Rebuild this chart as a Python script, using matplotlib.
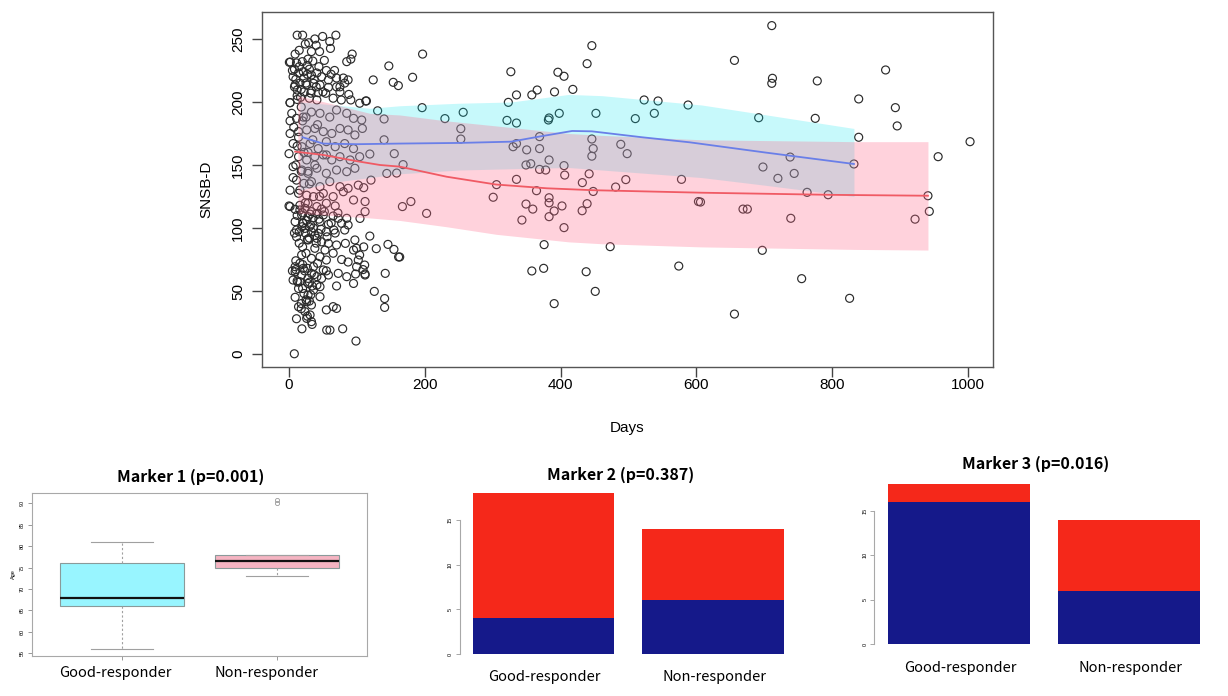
import matplotlib

matplotlib.use("Agg")
import matplotlib.pyplot as plt  # noqa: E402

W, H = 1228, 696

# ---- main scatter: SNSB-D vs days ----
days = [
    # dense early cluster
    12, 20, 69, 49.5, 38, 29, 40, 61, 15, 9, 93, 91, 85, 2, 11, 19.6, 28, 35, 55, 67,
    6, 14, 21, 27, 33, 41, 48, 58, 70, 80, 87, 82, 70, 58, 45.6, 36, 26, 16, 9, 12,
    22, 33, 43, 54, 75, 88, 91, 104, 114, 1.5, 12, 17, 30, 41, 65, 77,
    4, 11, 21, 33, 45.6, 60, 70, 85, 95, 107, 1.5, 14, 26, 38, 50.5, 63, 75, 87, 97, 108,
    6, 19, 31, 43, 55, 68, 82, 95, 14, 26, 38, 50.5, 63, 75, 90, 104, 119,
    6, 19, 28, 41, 55, 70, 85, 97, 11, 22, 33, 45.6, 60, 75, 87, 102,
    14, 26, 36, 50.5, 65, 80, 95, 1.5, 16, 28, 41, 55, 68,
    9, 16, 23.5, 33, 18.6, 28, 41, 50.5, 65, 72.5, 85, 9, 21, 32, 45.6, 58, 77.5, 87,
    11, 23.5, 33, 43, 55, 66, 82, 11, 28, 41, 48, 58, 70, 83, 97, 20, 38, 53, 65, 110, 99.5,
    18.6, 33, 45.6, 55, 77.5, 87, 104, 102, 95,
    9, 21, 36, 50.5, 9, 18.6, 33, 41, 58, 72.5, 85, 99.5, 109, 112, 98,
    6, 16, 28, 41, 45.6, 14, 36, 70, 95, 28, 45.6, 26, 33, 14, 23.5, 31, 26, 33, 55, 65, 70,
    5, 8, 12, 18, 25, 7, 14, 22, 10, 28, 6, 16, 24, 12, 20, 8, 30, 15, 25, 10, 20, 5, 28,
    13, 22, 9, 30, 18, 27, 11,
    8, 15, 22, 30, 37, 44, 18, 25, 32, 40, 10, 27, 50, 62, 75, 45, 52, 33, 24, 60,
    20, 35, 28, 42, 55, 12, 30, 45, 18, 38,
    20, 26, 31, 36, 44, 52, 24, 30, 38, 47, 56, 62, 19, 27, 35, 48, 68, 72, 15, 40,
    10, 16, 23, 30, 37, 12, 20, 27, 34, 42, 48, 55, 25, 32, 18,
    98.6, 79, 55.5, 60.3, 7.8, 19, 34, 0, 1.5, 0, 0.5, 1.5, 1.5,
    # 100-200 days
    147, 153.5, 161, 124, 113, 130.5, 140, 140, 155, 168, 158.5, 144, 120.7, 110, 112, 112,
    104.5, 167, 179.5, 119, 128.5, 145.7, 154.5, 161.4, 111.4, 112, 141.7, 125.6, 140.8,
    140.8, 196.7, 182, 196, 229.6, 256.5, 253, 253, 202.6, 163,
    # later visits
    326.7, 335, 323, 321, 335, 357.6, 365.5, 391, 396, 405, 418, 439, 446, 383, 382, 398,
    452, 510, 523, 543.5, 538, 587.7, 330, 335, 350, 369, 369, 349, 356, 369, 378, 383,
    405, 406, 446, 448, 446, 442, 432, 448, 488.6, 498, 496, 481, 578, 335, 305.6, 300.7,
    364.5, 349, 359, 383, 383, 390.5, 383, 402, 431.7, 439, 343, 405, 375.7, 473, 603,
    357.6, 375, 437.6, 451, 390.5, 574,
    711, 656, 712, 711, 778, 878.6, 839, 893, 895.7, 1003, 691.7, 775, 839, 956, 698, 738,
    720, 744, 832, 763, 794, 941, 943, 922, 606, 668.6, 675, 739, 697, 755, 825.6, 656,
]
snsb = [
    253, 253, 253, 252, 250, 247, 245, 242.5, 241, 238, 238, 234, 232, 231.7, 231, 232, 234, 232.5, 225, 225,
    220, 223, 224, 222, 221.4, 223, 220, 217.5, 219, 219, 217.5, 215, 212, 211.6, 213.5, 214.8, 213.5, 215, 213.5, 209.5,
    208, 209, 207.4, 206.9, 208, 206, 201.6, 199, 200.8, 199.5, 202, 203.7, 203, 201.6, 203, 201.6,
    191, 187, 188, 192, 191, 188, 193.6, 191, 187, 185.7, 175, 176.5, 177.8, 179, 176.5, 175, 179, 177.8, 173.8, 179,
    167, 164.5, 167, 163, 168.5, 164.5, 167, 163, 156.6, 154, 156.6, 158, 154, 156.6, 154, 156.6, 158.7,
    148.7, 146, 143.4, 147.4, 143.4, 146, 144.7, 147.4, 138, 135.4, 136.8, 132.8, 136.8, 132.8, 131.5, 134,
    127.5, 126, 124.9, 127.5, 124.9, 128.8, 122.2, 117, 118, 119.6, 117, 119.6, 117.5,
    114.8, 114.3, 115.6, 113, 110.3, 109, 111.6, 110.3, 109.5, 107.7, 107.7, 105, 103.7, 102.4, 105, 103, 103.7, 102.4,
    98.4, 99.7, 97, 95.8, 97, 98.4, 98.4, 93, 90.5, 91.8, 89, 87.8, 86.5, 87.8, 90.5, 85, 83.9, 82.5, 80, 85, 83.9,
    78.6, 75.9, 77.2, 74.6, 75, 73, 78.6, 74.6, 82.5,
    69.3, 68, 69.3, 66.7, 65.3, 62.7, 64, 61.4, 62.7, 64, 61.4, 69.3, 67, 62.7, 63.5,
    58.7, 57.4, 56, 54.6, 53.4, 52, 50.8, 54, 56, 46.8, 45.5, 41.5, 38.9, 37.5, 33.6, 31, 28.3, 25.7, 35, 37.6, 36.2,
    225, 212, 205, 196, 188, 180, 172, 160, 150, 145, 140, 130, 120, 110, 104, 96, 92, 88, 80, 74, 71, 66, 60,
    57, 48, 45, 42, 36, 30, 28,
    226, 228, 219, 226, 218, 228, 210, 215, 207, 212, 218, 229, 208, 222, 212, 240, 233, 240, 246, 248,
    185, 170, 160, 182, 158, 165, 135, 125, 145, 150,
    112, 106, 111, 100, 107, 113, 96, 101, 94, 99, 93, 104, 101, 91, 108, 115, 96, 112, 97, 88,
    67, 72, 66, 57, 63, 58, 52, 68, 54, 72, 60, 66, 43, 47, 40,
    10.3, 20, 19, 19, 0.2, 20, 23.5, 159, 130, 117.5, 231.5, 199.4, 185,
    228.6, 215.6, 213, 217.5, 200.8, 193, 186.5, 170, 159, 150.3, 143.6, 143.3, 138, 132, 121, 113,
    107.6, 117, 121, 93.6, 83.6, 87, 83, 77, 70.6, 63.5, 64, 49.7, 44,
    37, 238, 219.6, 195.5, 186.8, 191.8, 178.8, 170.6, 111.6, 77,
    224, 205.6, 199.7, 185.4, 183.3, 205.6, 209.5, 208, 223.6, 220.4, 210, 230.4, 244.7, 187.3, 185.7, 191,
    191, 186.8, 201.6, 200.8, 191, 197.6, 164.5, 167, 162, 172.5, 163, 150, 151, 146.5, 146, 154,
    149.5, 142, 170.6, 163, 157, 143, 136, 129, 166.4, 159, 138.4, 132.5, 138.6, 138.6, 134.4, 124.4,
    129.6, 119, 115, 124, 120, 113.5, 109, 117.5, 113.7, 119.3, 106.3, 100.3, 86.8, 85.2, 121,
    65.9, 68, 65.3, 49.7, 40, 69.8,
    260.6, 233, 218.8, 214.8, 216.7, 225.4, 202.4, 195.5, 181, 168.5, 187.5, 187, 172, 156.6, 148.4, 156.3,
    139.4, 143.3, 150.8, 128.3, 126.4, 125.6, 113.2, 107, 120.6, 115, 115, 107.7, 82.3, 59.8, 44.2, 31.7,
]

# smoothed trends with confidence bands
good_days = [16, 60, 119, 163, 250, 327, 412, 461, 608, 700, 832]
good_upper = [200, 198, 195, 197, 199, 200, 206, 205, 197.6, 190, 179]
good_lower = [130, 136, 140, 143, 146, 147, 148, 146, 140, 134, 125]
good_line_days = [20, 50, 100, 163, 250, 327, 368, 417, 446, 520, 590, 700, 832]
good_line = [172, 167, 166.5, 167, 167.5, 168.5, 172.5, 177, 176.7, 172, 168, 160, 150.8]

non_days = [13, 60, 119, 163, 232, 305, 412, 461, 608, 835, 941]
non_upper = [205, 199, 191, 189.7, 185, 181, 175, 173.5, 170, 168.5, 168.5]
non_lower = [111.6, 110, 108, 106, 101, 95, 89, 87.5, 85, 83, 82.5]
non_line_days = [9, 50, 100, 134, 163, 232, 305, 380, 447, 608, 800, 941]
non_line = [160.6, 158, 153, 150, 148.7, 140.7, 134.5, 131.5, 130, 128, 126.3, 125.6]

# ---- bottom panels ----
groups = ["Good-responder", "Non-responder"]
age_stats = [
    dict(med=68, q1=66, q3=76, whislo=56, whishi=81, fliers=[]),
    dict(med=76.5, q1=75, q3=78, whislo=73, whishi=78, fliers=[90, 90.8]),
]
m2_blue = [4, 6]
m2_red = [14, 8]
m3_blue = [16, 6]
m3_red = [2, 8]

RED = "#f5281a"
NAVY = "#15198a"
CAT_FONT = ["Noto Sans CJK KR", "DejaVu Sans"]


def px_axes(fig, left, top, right, bottom):
    return fig.add_axes([left / W, 1 - bottom / H, (right - left) / W, (bottom - top) / H])


def fig_text(fig, x, y, s, **kw):
    fig.text(x / W, 1 - y / H, s, ha="center", va="center", **kw)


def bar_panel(fig, axis_px, bar_left_px, bar_w_px, zero_px, unit_py, blue, red):
    right_px = axis_px + 3.0 * bar_w_px
    top_px = zero_px - 20.5 * unit_py
    axb = px_axes(fig, axis_px, top_px, right_px, zero_px)
    xl = 0.2 - (bar_left_px - axis_px) / bar_w_px
    axb.set_xlim(xl, xl + 3.0)
    axb.set_ylim(0, 20.5)
    axb.bar([0.7, 1.9], blue, width=1.0, color=NAVY, linewidth=0)
    axb.bar([0.7, 1.9], red, width=1.0, bottom=blue, color=RED, linewidth=0)
    for side in ["top", "right", "bottom"]:
        axb.spines[side].set_visible(False)
    axb.spines["left"].set_bounds(0, 15)
    axb.spines["left"].set_color("#a8a8a8")
    axb.spines["left"].set_linewidth(0.8)
    axb.set_xticks([])
    axb.set_yticks([0, 5, 10, 15])
    axb.tick_params(length=3, width=0.6, color="#999999", labelsize=4, pad=2)
    for lab in axb.get_yticklabels():
        lab.set_rotation(90)
        lab.set_va("center")
    return axb


fig = plt.figure(figsize=(W / 100, H / 100), dpi=100)
plt.rcParams["font.family"] = ["Liberation Sans", "DejaVu Sans"]

ax = px_axes(fig, 262, 12, 993, 367)
ax.scatter(days, snsb, s=33, facecolors="none", edgecolors="#2b2b2b", linewidths=0.85, zorder=1)
ax.fill_between(good_days, good_lower, good_upper, color="#00e5f0", alpha=0.22, lw=0, zorder=2)
ax.fill_between(non_days, non_lower, non_upper, color="#ff6a8c", alpha=0.30, lw=0, zorder=3)
ax.plot(good_line_days, good_line, color="#6a7fe8", lw=1.3, zorder=4)
ax.plot(non_line_days, non_line, color="#f05a64", lw=1.3, zorder=4)
ax.set_xlim(-39.8, 1036.8)
ax.set_ylim(-10.3, 271.4)
ax.set_xticks([0, 200, 400, 600, 800, 1000])
ax.set_yticks([0, 50, 100, 150, 200, 250])
for sp in ax.spines.values():
    sp.set_color("#555555")
    sp.set_linewidth(1.0)
ax.tick_params(axis="x", length=7, width=1.0, color="#444444", labelsize=11, pad=1)
ax.tick_params(axis="y", length=7, width=1.0, color="#444444", labelsize=11, pad=5)
for lab in ax.get_yticklabels():
    lab.set_rotation(90)
    lab.set_va("center")
ax.set_xlabel("Days", fontsize=11, labelpad=21)
ax.set_ylabel("SNSB-D", fontsize=11, labelpad=13)

# Marker 1: boxplot of age
ax1 = px_axes(fig, 32, 493, 367, 656)
bp = ax1.bxp(age_stats, positions=[1, 2], widths=0.8, patch_artist=True, showfliers=True,
             boxprops=dict(edgecolor="#8a9a9a", linewidth=0.8),
             medianprops=dict(color="#111111", linewidth=1.6),
             whiskerprops=dict(color="#a0a0a0", linewidth=0.8, linestyle=(0, (2, 2))),
             capprops=dict(color="#a0a0a0", linewidth=0.8),
             flierprops=dict(marker="o", markersize=3, markerfacecolor="none",
                             markeredgecolor="#999999", markeredgewidth=0.6))
for patch, col in zip(bp["boxes"], ["#98f5ff", "#f5b4c2"]):
    patch.set_facecolor(col)
ax1.set_xlim(0.42, 2.58)
ax1.set_ylim(54.37, 92.4)
ax1.set_yticks(range(55, 95, 5))
ax1.set_xticks([1, 2])
ax1.set_xticklabels([])
for sp in ax1.spines.values():
    sp.set_color("#a8a8a8")
    sp.set_linewidth(0.8)
ax1.tick_params(length=3, width=0.6, color="#888888", labelsize=4, pad=2)
for lab in ax1.get_yticklabels():
    lab.set_rotation(90)
    lab.set_va("center")
ax1.set_ylabel("Age", fontsize=4, labelpad=3)

# Marker 2 and 3: stacked counts
bar_panel(fig, 460, 472.7, 141.5, 654, 8.93, m2_blue, m2_red)
bar_panel(fig, 874.3, 888.3, 141.7, 644, 8.87, m3_blue, m3_red)

# titles and group labels
fig_text(fig, 191, 477, "Marker 1 (p=0.001)", fontsize=11.5, fontweight="bold", family=CAT_FONT)
fig_text(fig, 621, 475, "Marker 2 (p=0.387)", fontsize=11.5, fontweight="bold", family=CAT_FONT)
fig_text(fig, 1036, 464, "Marker 3 (p=0.016)", fontsize=11.5, fontweight="bold", family=CAT_FONT)
for (cx, cy) in [(115, 673), (544, 677), (960, 668)]:
    fig_text(fig, cx, cy, groups[0], fontsize=10.5, family=CAT_FONT)
for (cx, cy) in [(266, 673), (715, 677), (1131, 668)]:
    fig_text(fig, cx, cy, groups[1], fontsize=10.5, family=CAT_FONT)

fig.savefig("out.png", dpi=100)
